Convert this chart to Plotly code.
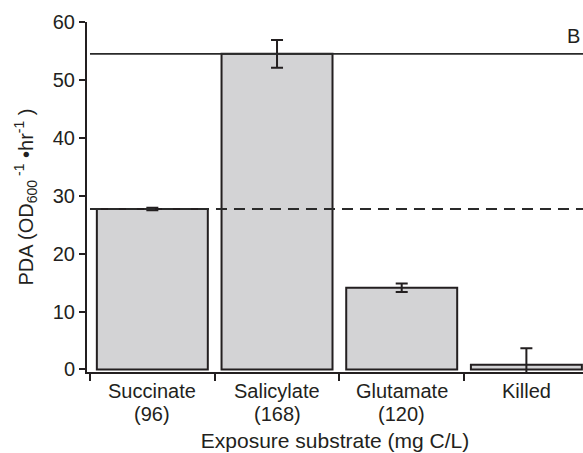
import plotly.graph_objects as go

# Potential degradation activity by exposure substrate
substrates = ["Succinate", "Salicylate", "Glutamate", "Killed"]
doses_mg_c_per_l = [96, 168, 120, None]
pda_values = [27.7, 54.5, 14.1, 0.8]
pda_errors = [0.2, 2.4, 0.72, 2.85]

y_ticks = [0, 10, 20, 30, 40, 50, 60]

ink = "#231f20"
font_family = "Liberation Sans, Arial, Helvetica, sans-serif"

x_range = [-0.524, 3.454]
y_range = [-0.45, 60]

# plot-area geometry in pixels (used to place the two-line category labels)
W, H = 583, 453
M_L, M_R, M_T, M_B = 87, 0, 22, 81
PLOT_H = H - M_T - M_B


def paper_y(py):
    return 1 - (py - M_T) / PLOT_H


fig = go.Figure()

fig.add_trace(
    go.Bar(
        x=substrates,
        y=pda_values,
        marker=dict(color="#d3d3d5", line=dict(color=ink, width=2)),
        error_y=dict(
            type="data",
            array=pda_errors,
            visible=True,
            color=ink,
            thickness=2,
            width=6,
        ),
        showlegend=False,
    )
)

# Reference levels: salicylate (solid) and succinate (dashed)
fig.add_shape(
    type="line", xref="x", yref="y",
    x0=-0.5, x1=x_range[1], y0=pda_values[1], y1=pda_values[1],
    line=dict(color="#2a2a2a", width=1.6),
)
fig.add_shape(
    type="line", xref="x", yref="y",
    x0=-0.5, x1=x_range[1], y0=pda_values[0], y1=pda_values[0],
    line=dict(color="#2a2a2a", width=1.8, dash="11px,7px"),
)

# Category labels: substrate name with its dose underneath, set tightly
for name, dose in zip(substrates, doses_mg_c_per_l):
    fig.add_annotation(
        x=name, y=paper_y(391), xref="x", yref="paper", text=name,
        showarrow=False, xanchor="center", yanchor="middle",
        font=dict(size=20, color=ink, family=font_family),
    )
    if dose is not None:
        fig.add_annotation(
            x=name, y=paper_y(413.5), xref="x", yref="paper", text=f"({dose})",
            showarrow=False, xanchor="center", yanchor="middle",
            font=dict(size=20, color=ink, family=font_family),
        )

# Panel letter in the upper right corner
fig.add_annotation(
    x=(573 - M_L) / (W - M_L - M_R), y=paper_y(35.5),
    xref="paper", yref="paper", text="B", showarrow=False,
    font=dict(size=20, color=ink, family=font_family),
    xanchor="center", yanchor="middle",
)

fig.update_layout(
    width=W,
    height=H,
    margin=dict(l=M_L, r=M_R, t=M_T, b=M_B),
    paper_bgcolor="white",
    plot_bgcolor="white",
    bargap=0.11,
    font=dict(family=font_family, size=20, color=ink),
    xaxis=dict(
        type="category",
        range=x_range,
        tickson="boundaries",
        ticks="outside",
        ticklen=7,
        tickwidth=2,
        tickcolor=ink,
        showticklabels=False,
        showline=True,
        linecolor=ink,
        linewidth=2,
        showgrid=False,
        zeroline=False,
        title=dict(text="Exposure substrate (mg C/L)", font=dict(size=21, color=ink), standoff=60),
    ),
    yaxis=dict(
        range=y_range,
        tickvals=y_ticks,
        ticks="outside",
        ticklen=6,
        tickwidth=2,
        tickcolor=ink,
        showline=True,
        linecolor=ink,
        linewidth=2,
        showgrid=False,
        zeroline=False,
        tickfont=dict(size=20, color=ink),
        title=dict(
            text="PDA (OD<sub>600</sub><sup> -1</sup> •hr<sup>-1</sup> )",
            font=dict(size=20, color=ink),
            standoff=14,
        ),
    ),
)

fig.write_html("out.html")
